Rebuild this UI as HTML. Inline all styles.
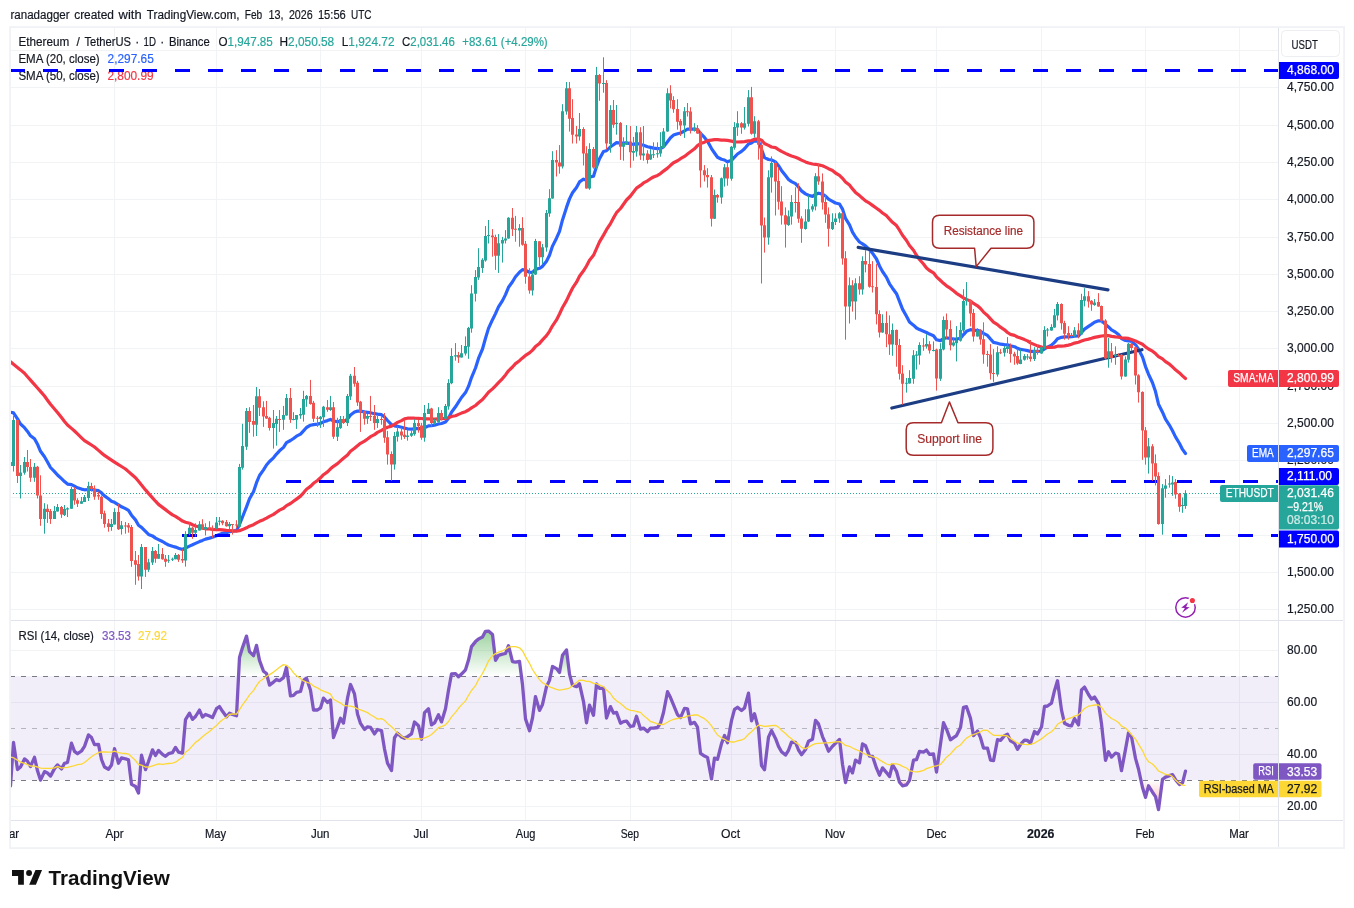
<!DOCTYPE html><html><head><meta charset="utf-8"><title>ETHUSDT</title><style>html,body{margin:0;padding:0;background:#fff}body{width:1354px;height:908px;overflow:hidden;font-family:"Liberation Sans",sans-serif}svg{display:block;will-change:transform}</style></head><body>
<svg width="1354" height="908" viewBox="0 0 1354 908" font-family="'Liberation Sans', sans-serif" font-size="12" fill="#131722">
<rect width="1354" height="908" fill="#fff"/>
<defs><clipPath id="cpMain"><rect x="10" y="28" width="1268" height="592.5"/></clipPath><clipPath id="cpRsi"><rect x="10" y="621" width="1268" height="199.5"/></clipPath><clipPath id="cpTime"><rect x="10" y="821" width="1268" height="27"/></clipPath><linearGradient id="gOB" x1="0" y1="0" x2="0" y2="1"><stop offset="0" stop-color="#4caf50" stop-opacity="0.55"/><stop offset="1" stop-color="#4caf50" stop-opacity="0"/></linearGradient><linearGradient id="gOS" x1="0" y1="0" x2="0" y2="1"><stop offset="0" stop-color="#ff5252" stop-opacity="0"/><stop offset="1" stop-color="#ff5252" stop-opacity="0.45"/></linearGradient></defs>
<path d="M114.5 28V820 M216.5 28V820 M320.5 28V820 M421.5 28V820 M525.5 28V820 M630.5 28V820 M731.5 28V820 M835.5 28V820 M936.5 28V820 M1041.5 28V820 M1145.5 28V820 M1239.5 28V820 M10 609.5H1278 M10 572.5H1278 M10 535.5H1278 M10 497.5H1278 M10 460.5H1278 M10 423.5H1278 M10 386.5H1278 M10 348.5H1278 M10 311.5H1278 M10 274.5H1278 M10 237.5H1278 M10 199.5H1278 M10 162.5H1278 M10 125.5H1278 M10 87.5H1278 M10 50.5H1278 M10 806.5H1278 M10 754.5H1278 M10 702.5H1278 M10 650.5H1278" stroke="#f2f3f5" stroke-width="1" fill="none" shape-rendering="crispEdges"/>
<text x="10.5" y="19.2" textLength="59.1" lengthAdjust="spacingAndGlyphs" stroke="#131722" stroke-width="0.18">ranadagger</text>
<text x="74.2" y="19.2" textLength="39.7" lengthAdjust="spacingAndGlyphs" stroke="#131722" stroke-width="0.18">created</text>
<text x="118.6" y="19.2" textLength="23.0" lengthAdjust="spacingAndGlyphs" stroke="#131722" stroke-width="0.18">with</text>
<text x="146.8" y="19.2" textLength="92.7" lengthAdjust="spacingAndGlyphs" stroke="#131722" stroke-width="0.18">TradingView.com,</text>
<text x="244.7" y="19.2" textLength="17.5" lengthAdjust="spacingAndGlyphs" stroke="#131722" stroke-width="0.18">Feb</text>
<text x="268.4" y="19.2" textLength="15.1" lengthAdjust="spacingAndGlyphs" stroke="#131722" stroke-width="0.18">13,</text>
<text x="288.9" y="19.2" textLength="23.8" lengthAdjust="spacingAndGlyphs" stroke="#131722" stroke-width="0.18">2026</text>
<text x="317.9" y="19.2" textLength="27.9" lengthAdjust="spacingAndGlyphs" stroke="#131722" stroke-width="0.18">15:56</text>
<text x="351" y="19.2" textLength="20.6" lengthAdjust="spacingAndGlyphs" stroke="#131722" stroke-width="0.18">UTC</text>
<text x="18.45" y="45.5" textLength="50.8" lengthAdjust="spacingAndGlyphs" stroke="#131722" stroke-width="0.18">Ethereum</text>
<text x="78.1" y="45.5" text-anchor="middle" stroke="#131722" stroke-width="0.18">/</text>
<text x="84.4" y="45.5" textLength="46.6" lengthAdjust="spacingAndGlyphs" stroke="#131722" stroke-width="0.18">TetherUS</text>
<text x="137.3" y="45.5" text-anchor="middle" stroke="#131722" stroke-width="0.18">·</text>
<text x="143.5" y="45.5" textLength="12.4" lengthAdjust="spacingAndGlyphs" stroke="#131722" stroke-width="0.18">1D</text>
<text x="162.3" y="45.5" text-anchor="middle" stroke="#131722" stroke-width="0.18">·</text>
<text x="168.9" y="45.5" textLength="40.9" lengthAdjust="spacingAndGlyphs" stroke="#131722" stroke-width="0.18">Binance</text>
<text x="218.5" y="45.5" textLength="54.3" lengthAdjust="spacingAndGlyphs" stroke="#131722" stroke-width="0.18">O<tspan fill="#26a69a" stroke="#26a69a" stroke-width="0.18">1,947.85</tspan></text>
<text x="279.5" y="45.5" textLength="54.7" lengthAdjust="spacingAndGlyphs" stroke="#131722" stroke-width="0.18">H<tspan fill="#26a69a" stroke="#26a69a" stroke-width="0.18">2,050.58</tspan></text>
<text x="341.7" y="45.5" textLength="52.8" lengthAdjust="spacingAndGlyphs" stroke="#131722" stroke-width="0.18">L<tspan fill="#26a69a" stroke="#26a69a" stroke-width="0.18">1,924.72</tspan></text>
<text x="402" y="45.5" textLength="52.8" lengthAdjust="spacingAndGlyphs" stroke="#131722" stroke-width="0.18">C<tspan fill="#26a69a" stroke="#26a69a" stroke-width="0.18">2,031.46</tspan></text>
<text x="462.3" y="45.5" fill="#26a69a" textLength="85.4" lengthAdjust="spacingAndGlyphs" stroke="#26a69a" stroke-width="0.18">+83.61 (+4.29%)</text>
<text x="18.4" y="62.5" textLength="81.3" lengthAdjust="spacingAndGlyphs" stroke="#131722" stroke-width="0.18">EMA (20, close)</text>
<text x="107.6" y="62.5" fill="#2962ff" textLength="46.2" lengthAdjust="spacingAndGlyphs" stroke="#2962ff" stroke-width="0.18">2,297.65</text>
<text x="18.4" y="79.5" textLength="81.3" lengthAdjust="spacingAndGlyphs" stroke="#131722" stroke-width="0.18">SMA (50, close)</text>
<text x="107.4" y="79.5" fill="#f23645" textLength="46.2" lengthAdjust="spacingAndGlyphs" stroke="#f23645" stroke-width="0.18">2,800.99</text>
<text x="18.4" y="640" textLength="75.5" lengthAdjust="spacingAndGlyphs" stroke="#131722" stroke-width="0.18">RSI (14, close)</text>
<text x="102" y="640" fill="#7e57c2" textLength="29" lengthAdjust="spacingAndGlyphs" stroke="#7e57c2" stroke-width="0.18">33.53</text>
<text x="138" y="640" fill="#fdd835" textLength="29" lengthAdjust="spacingAndGlyphs" stroke="#fdd835" stroke-width="0.18">27.92</text>
<g clip-path="url(#cpRsi)">
<rect x="10" y="676.2" width="1268" height="103.8" fill="#7e57c2" fill-opacity="0.1"/>
<path d="M10 676.5H1278" stroke="#787b86" stroke-opacity="1" stroke-width="1" stroke-dasharray="5 6" shape-rendering="crispEdges"/>
<path d="M10 728.5H1278" stroke="#787b86" stroke-opacity="0.5" stroke-width="1" stroke-dasharray="5 6" shape-rendering="crispEdges"/>
<path d="M10 780.5H1278" stroke="#787b86" stroke-opacity="1" stroke-width="1" stroke-dasharray="5 6" shape-rendering="crispEdges"/>
<path d="M238.5 676.2 L239.5 657.5 L242.5 647.6 L246.5 636.1 L249.5 651.7 L253.5 655.7 L256.5 645.4 L259.5 660.4 L263.5 671.2 L266.5 673.5 L267.2 676.2Z" fill="url(#gOB)"/>
<path d="M283.9 676.2 L286.5 667.2 L287.8 676.2Z" fill="url(#gOB)"/>
<path d="M451.1 676.2 L451.5 674.0 L455.5 673.7 L457.9 676.2Z" fill="url(#gOB)"/>
<path d="M459.1 676.2 L461.5 674.1 L465.5 669.8 L468.5 660.1 L471.5 646.6 L475.5 641.6 L478.5 638.9 L482.5 637.0 L485.5 631.3 L488.5 631.1 L492.5 634.4 L495.5 660.3 L498.5 655.3 L502.5 654.1 L505.5 653.5 L508.5 645.7 L512.5 661.7 L515.5 662.2 L519.5 661.5 L521.4 676.2Z" fill="url(#gOB)"/>
<path d="M550.4 676.2 L552.5 666.5 L556.5 668.6 L559.5 672.4 L562.5 655.3 L566.5 649.9 L569.5 674.1 L570.1 676.2Z" fill="url(#gOB)"/>
<path d="M10.5 780.0 L10.5 785.8 L10.9 780.0Z" fill="url(#gOS)"/>
<path d="M40.5 780.0 L40.5 780.1 L40.5 780.0Z" fill="url(#gOS)"/>
<path d="M131.0 780.0 L131.5 784.4 L135.5 786.5 L138.5 793.1 L139.5 780.0Z" fill="url(#gOS)"/>
<path d="M845.1 780.0 L845.5 782.5 L846.1 780.0Z" fill="url(#gOS)"/>
<path d="M898.9 780.0 L899.5 782.3 L902.5 785.8 L906.5 784.9 L909.5 780.4 L909.6 780.0Z" fill="url(#gOS)"/>
<path d="M1140.9 780.0 L1142.5 787.5 L1145.5 797.3 L1148.5 785.8 L1152.5 792.2 L1155.5 796.6 L1158.5 809.6 L1162.4 780.0Z" fill="url(#gOS)"/>
<path d="M1175.7 780.0 L1179.5 784.5 L1182.5 782.8 L1183.2 780.0Z" fill="url(#gOS)"/>
<path d="M10.5 785.8 L13.5 742.5 L17.5 769.6 L20.5 767.0 L24.5 758.9 L27.5 761.3 L30.5 766.5 L34.5 757.3 L37.5 770.8 L40.5 780.1 L44.5 771.6 L47.5 773.0 L50.5 776.1 L54.5 768.6 L57.5 764.9 L61.5 768.9 L64.5 763.3 L67.5 762.5 L71.5 743.2 L74.5 751.4 L77.5 753.7 L81.5 751.0 L84.5 746.4 L88.5 734.9 L91.5 737.6 L94.5 744.6 L98.5 744.4 L101.5 759.5 L104.5 767.0 L108.5 769.3 L111.5 765.0 L114.5 748.7 L118.5 763.2 L121.5 757.9 L125.5 758.8 L128.5 759.9 L131.5 784.4 L135.5 786.5 L138.5 793.1 L141.5 755.2 L145.5 769.6 L148.5 761.5 L152.5 749.9 L155.5 755.5 L158.5 750.4 L162.5 754.4 L165.5 756.3 L168.5 753.7 L172.5 752.6 L175.5 747.4 L178.5 752.1 L182.5 753.1 L185.5 719.6 L189.5 713.2 L192.5 719.4 L195.5 716.5 L199.5 710.1 L202.5 717.1 L205.5 714.5 L209.5 716.0 L212.5 717.6 L216.5 708.7 L219.5 706.6 L222.5 711.3 L226.5 716.8 L229.5 713.2 L232.5 714.5 L236.5 715.8 L239.5 657.5 L242.5 647.6 L246.5 636.1 L249.5 651.7 L253.5 655.7 L256.5 645.4 L259.5 660.4 L263.5 671.2 L266.5 673.5 L269.5 685.1 L273.5 682.1 L276.5 679.5 L279.5 680.7 L283.5 677.6 L286.5 667.2 L290.5 695.9 L293.5 695.3 L296.5 692.3 L300.5 691.5 L303.5 680.3 L306.5 678.2 L310.5 690.3 L313.5 710.0 L317.5 710.0 L320.5 707.9 L323.5 698.1 L327.5 702.5 L330.5 699.9 L333.5 737.5 L337.5 727.0 L340.5 718.3 L343.5 723.1 L347.5 698.2 L350.5 684.5 L354.5 693.9 L357.5 714.1 L360.5 723.4 L364.5 729.4 L367.5 726.8 L370.5 727.4 L374.5 733.9 L377.5 729.5 L381.5 730.6 L384.5 749.0 L387.5 763.1 L391.5 770.5 L394.5 737.7 L397.5 733.3 L401.5 736.9 L404.5 738.3 L407.5 736.6 L411.5 733.9 L414.5 722.0 L418.5 725.7 L421.5 739.2 L424.5 712.6 L428.5 708.8 L431.5 724.9 L434.5 722.9 L438.5 714.8 L441.5 721.9 L445.5 708.8 L448.5 690.2 L451.5 674.0 L455.5 673.7 L458.5 676.8 L461.5 674.1 L465.5 669.8 L468.5 660.1 L471.5 646.6 L475.5 641.6 L478.5 638.9 L482.5 637.0 L485.5 631.3 L488.5 631.1 L492.5 634.4 L495.5 660.3 L498.5 655.3 L502.5 654.1 L505.5 653.5 L508.5 645.7 L512.5 661.7 L515.5 662.2 L519.5 661.5 L522.5 684.8 L525.5 718.9 L529.5 730.7 L532.5 718.0 L535.5 696.6 L539.5 710.4 L542.5 704.4 L546.5 686.7 L549.5 680.4 L552.5 666.5 L556.5 668.6 L559.5 672.4 L562.5 655.3 L566.5 649.9 L569.5 674.1 L572.5 685.3 L576.5 686.7 L579.5 683.8 L583.5 701.6 L586.5 722.8 L589.5 705.1 L593.5 715.3 L596.5 683.9 L599.5 688.4 L603.5 688.2 L606.5 718.0 L610.5 706.6 L613.5 713.1 L616.5 712.4 L620.5 723.2 L623.5 721.6 L626.5 721.1 L630.5 726.5 L633.5 725.9 L636.5 716.3 L640.5 729.1 L643.5 728.1 L647.5 731.6 L650.5 728.2 L653.5 728.2 L657.5 727.5 L660.5 723.3 L663.5 712.5 L667.5 691.7 L670.5 697.6 L673.5 704.8 L677.5 714.6 L680.5 717.6 L684.5 708.3 L687.5 708.9 L690.5 723.9 L694.5 722.4 L697.5 727.1 L700.5 753.3 L704.5 756.1 L707.5 757.4 L711.5 778.9 L714.5 758.1 L717.5 759.3 L721.5 743.6 L724.5 735.5 L727.5 742.7 L731.5 720.7 L734.5 709.4 L737.5 707.3 L741.5 710.6 L744.5 708.0 L748.5 693.2 L751.5 720.9 L754.5 713.7 L758.5 729.0 L761.5 765.6 L764.5 769.7 L768.5 737.1 L771.5 730.6 L775.5 738.4 L778.5 746.4 L781.5 751.7 L785.5 755.1 L788.5 750.3 L791.5 742.1 L795.5 742.5 L798.5 750.0 L801.5 754.7 L805.5 749.6 L808.5 741.3 L812.5 739.3 L815.5 720.4 L818.5 723.9 L822.5 736.6 L825.5 743.5 L828.5 751.2 L832.5 746.2 L835.5 743.4 L839.5 739.4 L842.5 764.2 L845.5 782.5 L849.5 766.9 L852.5 772.9 L855.5 760.2 L859.5 762.8 L862.5 744.0 L865.5 745.7 L869.5 756.1 L872.5 756.3 L876.5 768.2 L879.5 775.2 L882.5 767.9 L886.5 772.6 L889.5 776.6 L892.5 764.7 L896.5 771.3 L899.5 782.3 L902.5 785.8 L906.5 784.9 L909.5 780.4 L913.5 760.2 L916.5 759.6 L919.5 751.4 L923.5 752.2 L926.5 750.1 L929.5 754.4 L933.5 754.0 L936.5 772.0 L940.5 744.1 L943.5 722.7 L946.5 729.2 L950.5 739.8 L953.5 737.7 L956.5 735.6 L960.5 727.6 L963.5 707.3 L966.5 706.7 L970.5 718.4 L973.5 735.7 L977.5 731.0 L980.5 737.7 L983.5 748.0 L987.5 748.2 L990.5 760.1 L993.5 760.6 L997.5 739.7 L1000.5 740.3 L1004.5 735.7 L1007.5 734.2 L1010.5 740.9 L1014.5 743.1 L1017.5 749.3 L1020.5 744.3 L1024.5 740.1 L1027.5 740.5 L1030.5 743.3 L1034.5 731.5 L1037.5 734.0 L1041.5 727.0 L1044.5 706.5 L1047.5 706.0 L1051.5 703.2 L1054.5 690.7 L1057.5 680.8 L1061.5 710.1 L1064.5 723.2 L1068.5 725.3 L1071.5 725.8 L1074.5 718.6 L1078.5 724.9 L1081.5 690.0 L1084.5 687.1 L1088.5 694.5 L1091.5 699.1 L1094.5 697.0 L1098.5 703.3 L1101.5 723.8 L1105.5 760.4 L1108.5 751.8 L1111.5 757.1 L1115.5 753.1 L1118.5 754.0 L1121.5 770.7 L1125.5 749.4 L1128.5 732.9 L1131.5 736.8 L1135.5 758.4 L1138.5 769.0 L1142.5 787.5 L1145.5 797.3 L1148.5 785.8 L1152.5 792.2 L1155.5 796.6 L1158.5 809.6 L1162.5 779.3 L1165.5 777.1 L1169.5 775.6 L1172.5 774.6 L1175.5 779.7 L1179.5 784.5 L1182.5 782.8 L1185.5 771.2" stroke="#7e57c2" stroke-width="3.3" fill="none" stroke-linejoin="round" stroke-linecap="round"/>
<path d="M10.5 757.1 L13.5 757.7 L17.5 760.1 L20.5 762.2 L24.5 763.4 L27.5 764.7 L30.5 766.0 L34.5 766.2 L37.5 767.0 L40.5 768.1 L44.5 768.3 L47.5 768.3 L50.5 768.4 L54.5 767.8 L57.5 766.3 L61.5 768.2 L64.5 767.7 L67.5 767.4 L71.5 766.3 L74.5 765.6 L77.5 764.7 L81.5 764.2 L84.5 762.5 L88.5 759.2 L91.5 756.8 L94.5 754.8 L98.5 752.5 L101.5 751.9 L104.5 752.0 L108.5 752.1 L111.5 752.2 L114.5 751.2 L118.5 752.6 L121.5 753.1 L125.5 753.5 L128.5 754.1 L131.5 756.8 L135.5 760.5 L138.5 764.5 L141.5 765.2 L145.5 767.0 L148.5 767.2 L152.5 765.9 L155.5 764.9 L158.5 763.9 L162.5 764.3 L165.5 763.8 L168.5 763.5 L172.5 763.1 L175.5 762.2 L178.5 759.9 L182.5 757.5 L185.5 752.2 L189.5 749.2 L192.5 745.7 L195.5 742.4 L199.5 739.6 L202.5 736.8 L205.5 734.3 L209.5 731.5 L212.5 728.8 L216.5 725.6 L219.5 722.3 L222.5 719.7 L226.5 717.2 L229.5 714.3 L232.5 714.0 L236.5 714.1 L239.5 709.7 L242.5 704.8 L246.5 699.5 L249.5 694.9 L253.5 690.6 L256.5 685.6 L259.5 681.5 L263.5 678.8 L266.5 676.5 L269.5 674.6 L273.5 672.1 L276.5 669.7 L279.5 667.3 L283.5 664.6 L286.5 665.3 L290.5 668.7 L293.5 672.9 L296.5 675.8 L300.5 678.4 L303.5 680.9 L306.5 682.2 L310.5 683.5 L313.5 686.1 L317.5 687.9 L320.5 689.8 L323.5 691.1 L327.5 692.7 L330.5 694.2 L333.5 699.3 L337.5 701.5 L340.5 703.1 L343.5 705.3 L347.5 705.8 L350.5 706.1 L354.5 707.2 L357.5 708.9 L360.5 709.9 L364.5 711.3 L367.5 712.6 L370.5 714.7 L374.5 717.0 L377.5 719.1 L381.5 718.6 L384.5 720.2 L387.5 723.4 L391.5 726.7 L394.5 729.6 L397.5 733.1 L401.5 736.1 L404.5 737.8 L407.5 738.8 L411.5 739.1 L414.5 738.8 L418.5 738.7 L421.5 739.0 L424.5 737.8 L428.5 736.3 L431.5 734.5 L434.5 731.7 L438.5 727.7 L441.5 726.6 L445.5 724.8 L448.5 721.5 L451.5 716.9 L455.5 712.4 L458.5 708.3 L461.5 704.9 L465.5 700.9 L468.5 695.3 L471.5 690.5 L475.5 685.7 L478.5 679.6 L482.5 673.5 L485.5 667.5 L488.5 661.0 L492.5 655.7 L495.5 653.6 L498.5 652.2 L502.5 650.8 L505.5 649.2 L508.5 647.1 L512.5 646.6 L515.5 646.7 L519.5 647.8 L522.5 650.8 L525.5 656.6 L529.5 663.3 L532.5 669.5 L535.5 674.1 L539.5 679.6 L542.5 682.7 L546.5 684.9 L549.5 686.8 L552.5 687.8 L556.5 689.4 L559.5 690.1 L562.5 689.7 L566.5 688.8 L569.5 688.1 L572.5 685.7 L576.5 682.5 L579.5 680.1 L583.5 680.4 L586.5 681.3 L589.5 681.4 L593.5 683.4 L596.5 683.7 L599.5 685.2 L603.5 686.6 L606.5 689.9 L610.5 693.5 L613.5 698.1 L616.5 700.8 L620.5 703.5 L623.5 706.0 L626.5 708.7 L630.5 710.4 L633.5 710.6 L636.5 711.5 L640.5 712.4 L643.5 715.6 L647.5 718.7 L650.5 721.5 L653.5 722.3 L657.5 723.8 L660.5 724.5 L663.5 724.5 L667.5 722.3 L670.5 720.5 L673.5 719.4 L677.5 718.5 L680.5 717.9 L684.5 717.4 L687.5 715.9 L690.5 715.6 L694.5 715.0 L697.5 714.9 L700.5 716.7 L704.5 718.7 L707.5 721.2 L711.5 725.9 L714.5 730.6 L717.5 735.0 L721.5 737.8 L724.5 739.3 L727.5 741.1 L731.5 742.0 L734.5 742.0 L737.5 740.8 L741.5 740.0 L744.5 738.6 L748.5 734.3 L751.5 731.8 L754.5 728.7 L758.5 725.1 L761.5 725.7 L764.5 726.4 L768.5 726.0 L771.5 725.6 L775.5 725.3 L778.5 727.1 L781.5 730.2 L785.5 733.6 L788.5 736.4 L791.5 738.8 L795.5 742.4 L798.5 744.4 L801.5 747.4 L805.5 748.8 L808.5 747.1 L812.5 744.9 L815.5 743.7 L818.5 743.3 L822.5 743.1 L825.5 742.9 L828.5 742.9 L832.5 742.3 L835.5 741.8 L839.5 741.6 L842.5 743.1 L845.5 745.4 L849.5 746.3 L852.5 748.0 L855.5 749.3 L859.5 751.0 L862.5 752.7 L865.5 754.3 L869.5 755.6 L872.5 756.6 L876.5 757.8 L879.5 759.9 L882.5 761.6 L886.5 764.0 L889.5 764.9 L892.5 763.6 L896.5 763.9 L899.5 764.6 L902.5 766.4 L906.5 768.0 L909.5 770.6 L913.5 771.6 L916.5 771.9 L919.5 771.5 L923.5 770.4 L926.5 768.6 L929.5 767.6 L933.5 766.3 L936.5 765.9 L940.5 764.5 L943.5 761.0 L946.5 757.2 L950.5 753.9 L953.5 750.5 L956.5 747.3 L960.5 745.0 L963.5 741.3 L966.5 738.1 L970.5 735.7 L973.5 734.7 L977.5 733.0 L980.5 731.8 L983.5 730.1 L987.5 730.4 L990.5 733.1 L993.5 735.3 L997.5 735.3 L1000.5 735.5 L1004.5 735.5 L1007.5 736.0 L1010.5 738.4 L1014.5 741.0 L1017.5 743.2 L1020.5 743.8 L1024.5 744.4 L1027.5 744.6 L1030.5 744.3 L1034.5 743.1 L1037.5 741.3 L1041.5 738.9 L1044.5 736.5 L1047.5 734.0 L1051.5 731.7 L1054.5 728.6 L1057.5 724.3 L1061.5 721.9 L1064.5 720.1 L1068.5 718.7 L1071.5 717.7 L1074.5 716.1 L1078.5 714.8 L1081.5 711.9 L1084.5 708.5 L1088.5 706.2 L1091.5 705.7 L1094.5 705.0 L1098.5 705.0 L1101.5 707.4 L1105.5 713.1 L1108.5 716.1 L1111.5 718.5 L1115.5 720.5 L1118.5 722.5 L1121.5 726.2 L1125.5 728.0 L1128.5 731.0 L1131.5 734.6 L1135.5 739.1 L1138.5 744.1 L1142.5 750.6 L1145.5 757.3 L1148.5 761.7 L1152.5 764.0 L1155.5 767.2 L1158.5 771.0 L1162.5 772.8 L1165.5 774.5 L1169.5 774.8 L1172.5 776.6 L1175.5 780.0 L1179.5 783.4 L1182.5 785.1 L1185.5 785.3" stroke="#fdd835" stroke-width="1.3" fill="none" stroke-linejoin="round"/>
</g>
<g clip-path="url(#cpMain)">
<path d="M10 493.5H1278" stroke="#26a69a" stroke-width="1" stroke-dasharray="1 2" shape-rendering="crispEdges"/>
<path d="M10.5 412.2 L13.5 412.9 L17.5 418.9 L20.5 424.0 L24.5 427.7 L27.5 431.4 L30.5 435.8 L34.5 438.8 L37.5 444.2 L40.5 451.3 L44.5 456.8 L47.5 462.0 L50.5 467.5 L54.5 471.6 L57.5 475.0 L61.5 478.7 L64.5 481.6 L67.5 484.1 L71.5 484.6 L74.5 486.1 L77.5 487.8 L81.5 489.1 L84.5 489.8 L88.5 489.5 L91.5 489.4 L94.5 490.1 L98.5 490.7 L101.5 492.9 L104.5 495.9 L108.5 498.8 L111.5 501.2 L114.5 502.3 L118.5 504.8 L121.5 506.8 L125.5 508.6 L128.5 510.4 L131.5 515.2 L135.5 519.9 L138.5 525.3 L141.5 527.4 L145.5 531.4 L148.5 534.4 L152.5 535.9 L155.5 538.1 L158.5 539.6 L162.5 541.5 L165.5 543.4 L168.5 545.0 L172.5 546.3 L175.5 547.1 L178.5 548.3 L182.5 549.5 L185.5 548.0 L189.5 546.1 L192.5 544.8 L195.5 543.4 L199.5 541.6 L202.5 540.4 L205.5 539.1 L209.5 538.1 L212.5 537.2 L216.5 535.8 L219.5 534.4 L222.5 533.3 L226.5 532.6 L229.5 531.8 L232.5 531.1 L236.5 530.6 L239.5 524.5 L242.5 517.0 L246.5 506.9 L249.5 498.8 L253.5 491.8 L256.5 482.7 L259.5 475.5 L263.5 469.9 L266.5 465.0 L269.5 461.5 L273.5 457.8 L276.5 454.1 L279.5 450.8 L283.5 447.4 L286.5 442.7 L290.5 440.5 L293.5 438.5 L296.5 436.2 L300.5 434.1 L303.5 430.8 L306.5 427.5 L310.5 425.2 L313.5 424.6 L317.5 424.1 L320.5 423.4 L323.5 421.8 L327.5 420.6 L330.5 419.4 L333.5 421.0 L337.5 421.6 L340.5 421.4 L343.5 421.5 L347.5 419.1 L350.5 415.0 L354.5 412.0 L357.5 411.1 L360.5 411.2 L364.5 411.9 L367.5 412.3 L370.5 412.7 L374.5 413.7 L377.5 414.2 L381.5 414.7 L384.5 416.9 L387.5 420.5 L391.5 424.7 L394.5 425.8 L397.5 426.3 L401.5 427.2 L404.5 428.1 L407.5 428.8 L411.5 429.2 L414.5 428.6 L418.5 428.4 L421.5 429.3 L424.5 427.7 L428.5 425.9 L431.5 425.6 L434.5 425.2 L438.5 424.0 L441.5 423.5 L445.5 421.9 L448.5 418.2 L451.5 412.2 L455.5 406.8 L458.5 402.1 L461.5 397.5 L465.5 392.6 L468.5 386.4 L471.5 377.6 L475.5 368.0 L478.5 358.4 L482.5 349.0 L485.5 338.2 L488.5 328.4 L492.5 319.7 L495.5 313.6 L498.5 306.9 L502.5 300.6 L505.5 294.6 L508.5 287.3 L512.5 281.8 L515.5 276.8 L519.5 272.2 L522.5 269.6 L525.5 270.3 L529.5 272.2 L532.5 272.4 L535.5 269.4 L539.5 268.3 L542.5 266.3 L546.5 261.2 L549.5 255.2 L552.5 246.1 L556.5 238.2 L559.5 231.3 L562.5 219.9 L566.5 207.4 L569.5 198.9 L572.5 192.8 L576.5 187.5 L579.5 181.9 L583.5 179.2 L586.5 180.1 L589.5 177.1 L593.5 176.2 L596.5 166.6 L599.5 158.7 L603.5 151.5 L606.5 150.7 L610.5 146.8 L613.5 144.7 L616.5 142.6 L620.5 143.0 L623.5 143.0 L626.5 142.9 L630.5 143.8 L633.5 144.5 L636.5 143.3 L640.5 144.5 L643.5 145.3 L647.5 146.7 L650.5 147.4 L653.5 148.1 L657.5 148.6 L660.5 148.5 L663.5 146.8 L667.5 141.7 L670.5 137.8 L673.5 135.1 L677.5 133.8 L680.5 133.0 L684.5 131.0 L687.5 129.2 L690.5 129.2 L694.5 129.1 L697.5 129.5 L700.5 133.4 L704.5 137.4 L707.5 141.2 L711.5 148.6 L714.5 153.0 L717.5 157.2 L721.5 159.2 L724.5 160.0 L727.5 161.8 L731.5 160.3 L734.5 157.2 L737.5 154.0 L741.5 151.4 L744.5 148.8 L748.5 143.9 L751.5 142.9 L754.5 140.8 L758.5 141.2 L761.5 149.2 L764.5 157.6 L768.5 159.5 L771.5 159.8 L775.5 161.9 L778.5 165.7 L781.5 170.4 L785.5 175.6 L788.5 179.5 L791.5 181.6 L795.5 183.6 L798.5 187.0 L801.5 190.9 L805.5 193.9 L808.5 195.3 L812.5 196.4 L815.5 194.4 L818.5 193.2 L822.5 194.1 L825.5 196.0 L828.5 199.2 L832.5 201.3 L835.5 203.0 L839.5 204.0 L842.5 209.1 L845.5 218.4 L849.5 224.8 L852.5 232.1 L855.5 237.0 L859.5 242.0 L862.5 243.8 L865.5 245.8 L869.5 249.7 L872.5 253.2 L876.5 259.0 L879.5 266.0 L882.5 271.5 L886.5 277.4 L889.5 283.8 L892.5 288.2 L896.5 293.7 L899.5 301.3 L902.5 309.1 L906.5 316.2 L909.5 322.0 L913.5 325.2 L916.5 328.0 L919.5 329.6 L923.5 331.2 L926.5 332.4 L929.5 334.1 L933.5 335.7 L936.5 339.7 L940.5 340.6 L943.5 338.7 L946.5 337.8 L950.5 338.5 L953.5 338.9 L956.5 339.0 L960.5 338.2 L963.5 334.6 L966.5 331.3 L970.5 329.6 L973.5 330.3 L977.5 330.3 L980.5 331.2 L983.5 333.4 L987.5 335.4 L990.5 339.0 L993.5 342.4 L997.5 343.3 L1000.5 344.2 L1004.5 344.6 L1007.5 344.8 L1010.5 345.7 L1014.5 346.7 L1017.5 348.3 L1020.5 349.4 L1024.5 350.0 L1027.5 350.6 L1030.5 351.4 L1034.5 351.3 L1037.5 351.4 L1041.5 351.0 L1044.5 349.0 L1047.5 347.1 L1051.5 345.2 L1054.5 342.4 L1057.5 338.7 L1061.5 337.3 L1064.5 336.9 L1068.5 336.8 L1071.5 336.7 L1074.5 336.1 L1078.5 335.9 L1081.5 332.5 L1084.5 329.1 L1088.5 326.4 L1091.5 324.4 L1094.5 322.3 L1098.5 320.8 L1101.5 320.8 L1105.5 324.4 L1108.5 326.9 L1111.5 329.9 L1115.5 332.2 L1118.5 334.5 L1121.5 338.5 L1125.5 340.5 L1128.5 340.8 L1131.5 341.5 L1135.5 344.7 L1138.5 349.2 L1142.5 357.0 L1145.5 366.6 L1148.5 374.2 L1152.5 382.7 L1155.5 391.6 L1158.5 404.2 L1162.5 412.2 L1165.5 419.2 L1169.5 425.3 L1172.5 430.8 L1175.5 436.9 L1179.5 443.5 L1182.5 449.4 L1185.5 453.5" stroke="#2962ff" stroke-width="3.2" fill="none" stroke-linejoin="round" stroke-linecap="round"/>
<path d="M10.5 361.8 L13.5 364.2 L17.5 367.5 L20.5 369.9 L24.5 373.3 L27.5 376.7 L30.5 380.1 L34.5 384.6 L37.5 388.0 L40.5 391.4 L44.5 396.0 L47.5 400.2 L50.5 404.3 L54.5 409.0 L57.5 412.5 L61.5 417.6 L64.5 421.5 L67.5 425.0 L71.5 428.4 L74.5 431.0 L77.5 433.9 L81.5 437.8 L84.5 440.6 L88.5 443.1 L91.5 445.0 L94.5 447.0 L98.5 450.4 L101.5 452.9 L104.5 455.4 L108.5 458.1 L111.5 460.1 L114.5 462.1 L118.5 464.7 L121.5 466.5 L125.5 469.0 L128.5 471.6 L131.5 474.2 L135.5 477.7 L138.5 481.3 L141.5 485.0 L145.5 489.9 L148.5 493.4 L152.5 497.8 L155.5 501.2 L158.5 504.4 L162.5 507.4 L165.5 509.6 L168.5 511.9 L172.5 514.9 L175.5 516.4 L178.5 518.3 L182.5 521.1 L185.5 522.2 L189.5 523.3 L192.5 524.8 L195.5 526.0 L199.5 527.0 L202.5 528.2 L205.5 528.8 L209.5 529.0 L212.5 529.4 L216.5 529.6 L219.5 529.7 L222.5 529.9 L226.5 530.3 L229.5 530.5 L232.5 530.8 L236.5 531.1 L239.5 530.7 L242.5 529.6 L246.5 527.8 L249.5 526.2 L253.5 524.7 L256.5 522.9 L259.5 521.3 L263.5 519.7 L266.5 518.1 L269.5 516.4 L273.5 514.4 L276.5 512.2 L279.5 510.1 L283.5 508.2 L286.5 505.6 L290.5 503.5 L293.5 501.3 L296.5 499.1 L300.5 496.1 L303.5 492.8 L306.5 489.2 L310.5 486.4 L313.5 483.3 L317.5 480.5 L320.5 477.8 L323.5 474.7 L327.5 471.9 L330.5 468.8 L333.5 466.3 L337.5 463.7 L340.5 460.9 L343.5 458.2 L347.5 455.0 L350.5 451.3 L354.5 448.3 L357.5 445.8 L360.5 443.3 L364.5 441.1 L367.5 439.0 L370.5 436.7 L374.5 434.6 L377.5 432.4 L381.5 430.3 L384.5 428.6 L387.5 427.2 L391.5 426.1 L394.5 424.3 L397.5 422.4 L401.5 420.6 L404.5 418.9 L407.5 418.2 L411.5 418.0 L414.5 418.2 L418.5 418.3 L421.5 418.5 L424.5 418.9 L428.5 418.9 L431.5 419.0 L434.5 419.1 L438.5 418.8 L441.5 418.7 L445.5 418.4 L448.5 417.7 L451.5 416.5 L455.5 415.7 L458.5 414.4 L461.5 413.1 L465.5 411.7 L468.5 410.0 L471.5 407.9 L475.5 405.5 L478.5 402.8 L482.5 399.6 L485.5 395.9 L488.5 392.3 L492.5 388.9 L495.5 385.8 L498.5 382.6 L502.5 378.6 L505.5 374.9 L508.5 370.8 L512.5 367.0 L515.5 363.6 L519.5 360.7 L522.5 357.9 L525.5 355.4 L529.5 352.9 L532.5 350.1 L535.5 346.6 L539.5 343.4 L542.5 339.9 L546.5 335.7 L549.5 331.3 L552.5 325.8 L556.5 319.9 L559.5 314.0 L562.5 307.5 L566.5 300.6 L569.5 294.3 L572.5 288.2 L576.5 282.2 L579.5 276.2 L583.5 270.8 L586.5 266.0 L589.5 260.3 L593.5 255.3 L596.5 248.7 L599.5 241.9 L603.5 235.1 L606.5 229.7 L610.5 223.6 L613.5 217.9 L616.5 212.7 L620.5 208.5 L623.5 204.3 L626.5 200.0 L630.5 196.0 L633.5 192.1 L636.5 188.1 L640.5 185.4 L643.5 182.9 L647.5 180.8 L650.5 178.7 L653.5 177.0 L657.5 175.4 L660.5 173.6 L663.5 171.1 L667.5 168.1 L670.5 165.3 L673.5 162.7 L677.5 160.8 L680.5 158.7 L684.5 156.4 L687.5 154.0 L690.5 151.8 L694.5 148.8 L697.5 145.6 L700.5 143.6 L704.5 142.2 L707.5 140.6 L711.5 140.1 L714.5 139.7 L717.5 139.7 L721.5 140.1 L724.5 140.2 L727.5 140.4 L731.5 141.1 L734.5 141.9 L737.5 142.0 L741.5 141.8 L744.5 141.6 L748.5 140.9 L751.5 140.5 L754.5 139.2 L758.5 139.1 L761.5 140.2 L764.5 143.5 L768.5 145.4 L771.5 147.0 L775.5 147.7 L778.5 149.6 L781.5 151.4 L785.5 153.4 L788.5 154.8 L791.5 156.0 L795.5 157.2 L798.5 158.5 L801.5 160.1 L805.5 161.9 L808.5 163.0 L812.5 164.0 L815.5 164.3 L818.5 164.9 L822.5 165.8 L825.5 167.1 L828.5 168.7 L832.5 170.5 L835.5 173.0 L839.5 175.3 L842.5 178.3 L845.5 182.0 L849.5 185.1 L852.5 188.9 L855.5 192.4 L859.5 195.6 L862.5 198.2 L865.5 200.9 L869.5 203.2 L872.5 205.4 L876.5 208.2 L879.5 210.4 L882.5 213.0 L886.5 215.7 L889.5 219.1 L892.5 222.3 L896.5 225.6 L899.5 230.2 L902.5 235.3 L906.5 240.5 L909.5 245.5 L913.5 250.2 L916.5 255.3 L919.5 259.5 L923.5 264.0 L926.5 268.0 L929.5 270.5 L933.5 272.8 L936.5 276.8 L940.5 280.5 L943.5 283.3 L946.5 285.8 L950.5 288.4 L953.5 290.8 L956.5 293.3 L960.5 295.8 L963.5 297.8 L966.5 299.4 L970.5 301.1 L973.5 303.4 L977.5 305.8 L980.5 308.5 L983.5 312.1 L987.5 315.5 L990.5 318.9 L993.5 322.1 L997.5 324.6 L1000.5 327.2 L1004.5 329.8 L1007.5 332.5 L1010.5 334.4 L1014.5 335.4 L1017.5 337.0 L1020.5 338.1 L1024.5 339.6 L1027.5 340.9 L1030.5 342.9 L1034.5 344.6 L1037.5 345.9 L1041.5 347.1 L1044.5 347.4 L1047.5 347.4 L1051.5 347.4 L1054.5 347.1 L1057.5 346.2 L1061.5 346.1 L1064.5 345.9 L1068.5 345.1 L1071.5 344.2 L1074.5 343.1 L1078.5 342.2 L1081.5 341.1 L1084.5 340.0 L1088.5 339.1 L1091.5 338.3 L1094.5 337.4 L1098.5 336.6 L1101.5 336.0 L1105.5 335.6 L1108.5 335.6 L1111.5 336.4 L1115.5 336.9 L1118.5 337.1 L1121.5 337.8 L1125.5 338.1 L1128.5 338.4 L1131.5 339.4 L1135.5 340.9 L1138.5 342.4 L1142.5 344.3 L1145.5 346.9 L1148.5 349.0 L1152.5 351.2 L1155.5 353.6 L1158.5 356.6 L1162.5 358.9 L1165.5 361.6 L1169.5 364.2 L1172.5 366.9 L1175.5 369.8 L1179.5 372.9 L1182.5 375.9 L1185.5 378.5" stroke="#f23645" stroke-width="3.2" fill="none" stroke-linejoin="round" stroke-linecap="round"/>
<path d="M10 70.5H25 M43 70.5H58 M76 70.5H91 M109 70.5H124 M142 70.5H157 M175 70.5H190 M208 70.5H223 M241 70.5H256 M274 70.5H289 M307 70.5H322 M340 70.5H355 M373 70.5H388 M406 70.5H421 M439 70.5H454 M472 70.5H487 M505 70.5H520 M538 70.5H553 M571 70.5H586 M604 70.5H619 M637 70.5H652 M670 70.5H685 M703 70.5H718 M736 70.5H751 M769 70.5H784 M802 70.5H817 M835 70.5H850 M868 70.5H883 M901 70.5H916 M934 70.5H949 M967 70.5H982 M1000 70.5H1015 M1033 70.5H1048 M1066 70.5H1081 M1099 70.5H1114 M1132 70.5H1147 M1165 70.5H1180 M1198 70.5H1213 M1231 70.5H1246 M1264 70.5H1278 M286 481.5H301 M319 481.5H334 M352 481.5H367 M385 481.5H400 M418 481.5H433 M451 481.5H466 M484 481.5H499 M517 481.5H532 M550 481.5H565 M583 481.5H598 M616 481.5H631 M649 481.5H664 M682 481.5H697 M715 481.5H730 M748 481.5H763 M781 481.5H796 M814 481.5H829 M847 481.5H862 M880 481.5H895 M913 481.5H928 M946 481.5H961 M979 481.5H994 M1012 481.5H1027 M1045 481.5H1060 M1078 481.5H1093 M1111 481.5H1126 M1144 481.5H1159 M1177 481.5H1192 M1210 481.5H1225 M1243 481.5H1258 M1276 481.5H1278 M182 535.5H197 M215 535.5H230 M248 535.5H263 M281 535.5H296 M314 535.5H329 M347 535.5H362 M380 535.5H395 M413 535.5H428 M446 535.5H461 M479 535.5H494 M512 535.5H527 M545 535.5H560 M578 535.5H593 M611 535.5H626 M644 535.5H659 M677 535.5H692 M710 535.5H725 M743 535.5H758 M776 535.5H791 M809 535.5H824 M842 535.5H857 M875 535.5H890 M908 535.5H923 M941 535.5H956 M974 535.5H989 M1007 535.5H1022 M1040 535.5H1055 M1073 535.5H1088 M1106 535.5H1121 M1139 535.5H1154 M1172 535.5H1187 M1205 535.5H1220 M1238 535.5H1253 M1271 535.5H1278" stroke="#0000ff" stroke-width="3" fill="none" shape-rendering="crispEdges"/>
<path d="M858.2 247.3L1108 289.8M891.8 408L1141.9 349.7" stroke="#1c3d83" stroke-width="3.2" stroke-linecap="round" fill="none"/>
<path d="M939.5 215.2H1026.9Q1033.9 215.2 1033.9 222.2V241.3Q1033.9 248.3 1026.9 248.3H991L976.2 266.6L974.6 248.3H939.5Q932.5 248.3 932.5 241.3V222.2Q932.5 215.2 939.5 215.2Z" fill="#fff" fill-opacity="0.75" stroke="#a52a2a" stroke-width="1.5" stroke-linejoin="round"/>
<text x="983.4" y="235" text-anchor="middle" fill="#a52a2a" textLength="79.4" lengthAdjust="spacingAndGlyphs" stroke="#a52a2a" stroke-width="0.18">Resistance line</text>
<path d="M913.2 422.7H941.4L949.4 401.9L958 422.7H985.9Q992.9 422.7 992.9 429.7V448.3Q992.9 455.3 985.9 455.3H913.2Q906.2 455.3 906.2 448.3V429.7Q906.2 422.7 913.2 422.7Z" fill="#fff" fill-opacity="0.75" stroke="#a52a2a" stroke-width="1.5" stroke-linejoin="round"/>
<text x="949.6" y="442.8" text-anchor="middle" fill="#a52a2a" textLength="64.7" lengthAdjust="spacingAndGlyphs" stroke="#a52a2a" stroke-width="0.18">Support line</text>
<path d="M13.5 416.0V471.5 M20.5 465.0V498.5 M24.5 457.0V474.7 M34.5 463.0V481.8 M44.5 503.2V533.7 M54.5 506.0V518.9 M57.5 504.0V511.6 M64.5 505.0V516.0 M67.5 507.3V517.0 M71.5 486.9V508.8 M81.5 497.0V503.8 M84.5 495.0V502.0 M88.5 481.8V501.0 M111.5 519.0V530.8 M114.5 508.2V524.5 M121.5 521.0V534.6 M141.5 544.0V589.0 M148.5 558.8V571.9 M152.5 547.0V565.0 M158.5 544.0V558.8 M168.5 555.0V562.8 M172.5 557.6V561.0 M175.5 553.0V559.3 M185.5 531.2V566.6 M189.5 522.4V535.2 M195.5 523.3V536.5 M199.5 521.2V530.5 M205.5 523.3V535.5 M216.5 517.0V528.7 M219.5 517.0V525.4 M229.5 522.0V529.6 M239.5 463.9V526.7 M242.5 423.8V469.6 M246.5 408.0V449.9 M256.5 387.0V436.0 M273.5 410.0V448.6 M276.5 416.0V445.7 M283.5 405.9V429.8 M286.5 394.0V415.6 M293.5 412.2V420.3 M296.5 415.0V428.9 M300.5 408.0V418.8 M303.5 390.8V421.6 M306.5 395.0V406.8 M320.5 416.0V427.9 M323.5 405.9V426.9 M330.5 395.9V410.9 M337.5 417.8V441.0 M340.5 416.0V428.9 M347.5 394.0V426.0 M350.5 373.9V400.0 M367.5 413.8V423.9 M377.5 416.0V427.9 M394.5 432.0V469.6 M397.5 426.0V441.6 M407.5 429.8V440.7 M411.5 431.0V436.9 M414.5 419.3V435.7 M424.5 405.0V441.7 M428.5 403.0V414.0 M434.5 418.8V424.7 M438.5 407.2V422.6 M445.5 404.0V419.7 M448.5 379.2V409.7 M451.5 348.2V384.2 M455.5 343.1V360.7 M461.5 345.0V357.6 M465.5 336.4V355.5 M468.5 326.9V358.8 M471.5 285.2V332.7 M475.5 270.1V301.5 M478.5 248.2V279.9 M482.5 258.2V272.9 M485.5 226.0V261.7 M488.5 220.0V243.5 M498.5 234.1V272.9 M502.5 236.9V262.6 M505.5 230.1V243.5 M508.5 217.2V238.7 M519.5 224.1V246.7 M532.5 271.4V295.5 M535.5 238.9V275.0 M542.5 244.0V263.9 M546.5 210.0V251.7 M549.5 189.2V216.8 M552.5 151.2V198.7 M562.5 104.2V168.5 M566.5 82.0V114.7 M579.5 113.0V140.6 M589.5 143.2V189.8 M596.5 66.9V169.0 M603.5 57.3V92.7 M610.5 105.2V152.7 M616.5 105.0V134.7 M623.5 137.3V160.7 M626.5 125.1V145.0 M633.5 136.9V160.7 M636.5 126.0V156.7 M643.5 126.0V160.7 M650.5 149.2V159.9 M653.5 142.3V158.0 M657.5 142.3V157.7 M660.5 132.2V156.7 M663.5 128.1V148.5 M667.5 88.3V131.8 M684.5 107.1V137.9 M694.5 123.2V131.6 M714.5 189.5V219.0 M721.5 177.5V203.7 M724.5 164.1V186.6 M731.5 146.0V180.7 M734.5 122.1V149.7 M737.5 111.2V135.9 M744.5 107.0V129.6 M748.5 90.1V126.5 M754.5 116.2V137.5 M768.5 170.3V244.7 M771.5 156.4V192.6 M788.5 210.4V225.9 M791.5 195.1V224.6 M805.5 209.2V229.7 M808.5 195.4V222.0 M812.5 204.2V211.7 M815.5 173.2V210.4 M832.5 213.3V230.0 M835.5 213.3V225.0 M839.5 212.1V222.8 M849.5 277.4V323.5 M855.5 278.3V319.7 M862.5 256.3V294.6 M882.5 314.3V332.8 M892.5 323.5V355.8 M906.5 378.0V392.6 M909.5 370.2V383.6 M913.5 350.1V383.8 M916.5 351.1V369.6 M919.5 342.3V364.6 M926.5 334.1V348.6 M933.5 341.4V351.4 M940.5 343.2V380.9 M943.5 316.4V350.4 M953.5 338.0V346.6 M956.5 326.1V361.4 M960.5 322.3V341.6 M963.5 289.2V332.1 M966.5 282.1V305.6 M977.5 328.2V336.6 M997.5 346.3V376.6 M1004.5 345.9V356.6 M1007.5 337.1V353.1 M1020.5 349.3V364.2 M1024.5 354.1V360.6 M1027.5 354.1V359.7 M1034.5 347.2V361.0 M1041.5 346.5V353.8 M1044.5 326.2V349.1 M1047.5 328.0V336.5 M1051.5 324.2V330.8 M1054.5 308.9V327.8 M1057.5 302.0V320.4 M1074.5 327.1V336.8 M1081.5 293.8V334.9 M1084.5 288.2V306.4 M1094.5 299.1V305.8 M1108.5 338.0V367.7 M1115.5 346.3V364.8 M1125.5 356.4V376.7 M1128.5 343.0V362.6 M1148.5 438.0V473.6 M1162.5 484.1V534.7 M1165.5 479.1V497.7 M1169.5 475.1V487.7 M1172.5 476.1V495.8 M1182.5 497.5V512.8 M1185.5 490.2V508.8" stroke="#26a69a" stroke-width="1" fill="none"/>
<path d="M12 420.0h3v46.0h-3z M19 472.5h3v3.5h-3z M23 462.0h3v10.8h-3z M33 466.8h3v11.0h-3z M43 508.8h3v10.1h-3z M53 511.0h3v7.9h-3z M56 507.0h3v4.6h-3z M63 509.0h3v6.0h-3z M66 508.2h3v1.3h-3z M70 488.9h3v19.8h-3z M80 501.3h3v2.5h-3z M83 497.0h3v5.0h-3z M87 486.0h3v12.0h-3z M110 524.0h3v3.0h-3z M113 512.0h3v12.5h-3z M120 525.2h3v3.8h-3z M140 547.0h3v29.6h-3z M147 562.2h3v7.5h-3z M151 550.9h3v11.7h-3z M157 554.0h3v4.8h-3z M167 559.7h3v1.0h-3z M171 558.8h3v1.0h-3z M174 555.0h3v4.3h-3z M184 534.0h3v26.6h-3z M188 527.7h3v6.3h-3z M194 530.0h3v2.7h-3z M198 524.2h3v6.3h-3z M204 527.0h3v2.6h-3z M215 522.4h3v6.3h-3z M218 520.8h3v1.0h-3z M228 524.0h3v2.2h-3z M238 467.1h3v59.6h-3z M241 446.1h3v21.6h-3z M245 410.9h3v35.8h-3z M255 396.2h3v28.5h-3z M272 423.1h3v4.8h-3z M275 418.8h3v5.1h-3z M282 415.0h3v4.7h-3z M285 398.0h3v17.6h-3z M292 419.0h3v1.0h-3z M295 415.0h3v4.7h-3z M299 414.0h3v1.6h-3z M302 399.0h3v15.7h-3z M305 395.9h3v3.7h-3z M319 416.8h3v2.3h-3z M322 406.8h3v10.4h-3z M329 407.2h3v2.8h-3z M336 427.3h3v9.4h-3z M339 419.0h3v8.9h-3z M346 395.9h3v27.0h-3z M349 375.8h3v20.7h-3z M366 416.0h3v2.8h-3z M376 419.0h3v3.9h-3z M393 436.0h3v28.6h-3z M396 431.4h3v5.3h-3z M406 435.4h3v1.5h-3z M410 433.2h3v2.5h-3z M413 422.9h3v11.3h-3z M423 413.0h3v24.7h-3z M427 408.8h3v5.2h-3z M433 421.0h3v2.5h-3z M437 413.0h3v9.2h-3z M444 405.9h3v12.9h-3z M447 382.9h3v23.6h-3z M450 356.0h3v27.3h-3z M454 355.3h3v1.3h-3z M460 353.2h3v4.4h-3z M464 346.1h3v7.5h-3z M467 327.9h3v18.8h-3z M470 293.4h3v35.1h-3z M474 277.0h3v16.7h-3z M477 267.0h3v10.4h-3z M481 259.8h3v8.1h-3z M484 236.0h3v24.5h-3z M487 235.1h3v1.0h-3z M497 243.2h3v12.5h-3z M501 240.1h3v3.4h-3z M504 238.5h3v1.9h-3z M507 217.8h3v20.7h-3z M518 228.1h3v2.3h-3z M531 274.5h3v16.0h-3z M534 241.0h3v33.5h-3z M541 247.3h3v10.0h-3z M545 213.0h3v34.6h-3z M548 198.3h3v15.1h-3z M551 160.1h3v38.5h-3z M561 111.3h3v55.2h-3z M565 88.3h3v23.2h-3z M578 129.1h3v7.5h-3z M588 149.1h3v39.4h-3z M595 75.1h3v92.4h-3z M602 82.9h3v1.0h-3z M609 110.0h3v34.1h-3z M615 122.8h3v1.2h-3z M622 142.9h3v3.8h-3z M625 141.7h3v2.7h-3z M632 151.1h3v1.6h-3z M635 132.2h3v19.2h-3z M642 153.6h3v1.9h-3z M649 154.2h3v5.3h-3z M652 154.2h3v1.0h-3z M656 153.2h3v1.0h-3z M659 147.3h3v6.3h-3z M662 131.4h3v16.5h-3z M666 93.3h3v38.3h-3z M683 111.3h3v14.3h-3z M693 127.8h3v2.1h-3z M713 195.1h3v23.6h-3z M720 178.2h3v19.2h-3z M723 167.3h3v11.3h-3z M730 146.8h3v32.0h-3z M733 127.1h3v20.7h-3z M736 123.3h3v4.2h-3z M743 123.3h3v4.4h-3z M747 97.3h3v26.4h-3z M753 121.2h3v12.6h-3z M767 177.3h3v60.3h-3z M770 162.9h3v14.7h-3z M787 216.2h3v8.8h-3z M790 202.0h3v14.5h-3z M804 221.5h3v7.5h-3z M807 209.2h3v12.3h-3z M811 206.2h3v3.4h-3z M814 176.2h3v30.2h-3z M831 222.1h3v6.9h-3z M834 218.4h3v3.7h-3z M838 213.3h3v5.1h-3z M848 285.2h3v21.4h-3z M854 283.3h3v18.2h-3z M861 261.1h3v28.5h-3z M881 323.0h3v9.4h-3z M891 330.1h3v14.4h-3z M905 382.8h3v1.0h-3z M908 378.0h3v5.4h-3z M912 355.2h3v23.6h-3z M915 354.5h3v1.3h-3z M918 345.0h3v10.4h-3z M925 344.1h3v2.3h-3z M932 350.1h3v1.0h-3z M939 349.1h3v29.7h-3z M942 320.1h3v29.4h-3z M952 342.6h3v3.0h-3z M955 340.0h3v3.2h-3z M959 330.1h3v10.6h-3z M962 300.9h3v29.5h-3z M965 300.0h3v1.0h-3z M976 330.4h3v6.0h-3z M996 352.3h3v22.2h-3z M1003 348.1h3v4.7h-3z M1006 346.6h3v2.5h-3z M1019 359.4h3v4.5h-3z M1023 356.0h3v3.7h-3z M1026 356.4h3v1.0h-3z M1033 350.3h3v8.6h-3z M1040 347.2h3v6.3h-3z M1043 330.0h3v17.6h-3z M1046 329.6h3v1.0h-3z M1050 327.1h3v3.4h-3z M1053 315.2h3v12.3h-3z M1056 304.1h3v11.3h-3z M1073 330.2h3v6.1h-3z M1080 300.1h3v34.5h-3z M1083 296.3h3v4.4h-3z M1093 302.4h3v2.7h-3z M1107 351.3h3v6.8h-3z M1114 354.7h3v1.3h-3z M1124 359.4h3v17.0h-3z M1127 343.8h3v15.9h-3z M1147 446.3h3v11.2h-3z M1161 488.3h3v35.8h-3z M1164 485.4h3v3.3h-3z M1168 483.6h3v1.0h-3z M1171 482.4h3v2.1h-3z M1181 505.0h3v1.0h-3z M1184 493.3h3v12.6h-3z" fill="#26a69a"/>
<path d="M10.5 456.0V476.0 M17.5 419.5V483.0 M27.5 450.0V471.5 M30.5 459.0V481.8 M37.5 465.9V498.5 M40.5 475.3V525.8 M47.5 504.4V522.9 M50.5 509.0V523.9 M61.5 506.0V517.9 M74.5 487.2V504.8 M77.5 498.2V507.0 M91.5 482.8V491.6 M94.5 485.4V499.8 M98.5 491.6V499.8 M101.5 495.4V518.9 M104.5 510.7V527.7 M108.5 519.0V531.7 M118.5 504.0V530.0 M125.5 522.0V533.7 M128.5 523.0V532.7 M131.5 525.0V566.8 M135.5 551.0V584.8 M138.5 555.0V580.6 M145.5 547.0V576.9 M155.5 550.0V562.8 M162.5 548.0V559.7 M165.5 555.0V566.8 M178.5 554.0V561.9 M182.5 549.3V562.9 M192.5 526.7V538.8 M202.5 519.2V529.6 M209.5 521.2V529.2 M212.5 525.4V537.8 M222.5 520.2V525.2 M226.5 520.0V526.7 M232.5 524.0V534.6 M236.5 520.2V528.3 M249.5 407.2V432.9 M253.5 405.0V436.7 M259.5 389.0V416.0 M263.5 401.3V426.9 M266.5 400.9V418.9 M269.5 416.8V430.6 M279.5 410.0V431.9 M290.5 388.0V422.9 M310.5 379.9V404.7 M313.5 400.9V421.9 M317.5 416.0V426.9 M327.5 400.0V411.8 M333.5 402.0V438.9 M343.5 416.0V423.9 M354.5 367.0V386.7 M357.5 380.8V405.9 M360.5 400.9V431.9 M364.5 410.9V424.7 M370.5 395.9V421.0 M374.5 405.0V429.8 M381.5 416.0V424.7 M384.5 413.0V442.8 M387.5 430.9V464.6 M391.5 451.4V480.9 M401.5 427.9V439.8 M404.5 419.7V438.9 M418.5 419.7V432.7 M421.5 422.9V439.8 M431.5 407.8V426.6 M441.5 410.0V420.4 M458.5 351.9V362.9 M492.5 229.1V256.7 M495.5 234.7V269.9 M512.5 208.0V236.0 M515.5 215.9V241.7 M522.5 217.2V245.7 M525.5 241.0V283.7 M529.5 268.2V293.7 M539.5 241.3V266.1 M556.5 150.2V176.5 M559.5 145.1V173.7 M569.5 82.0V131.6 M572.5 99.2V143.5 M576.5 126.0V143.5 M583.5 127.2V165.5 M586.5 146.2V188.7 M593.5 147.0V168.7 M599.5 74.0V100.8 M606.5 80.1V149.5 M613.5 100.0V127.8 M620.5 122.0V159.9 M630.5 126.0V167.7 M640.5 127.2V159.9 M647.5 150.2V163.6 M670.5 85.2V108.4 M673.5 96.2V112.8 M677.5 99.2V129.7 M680.5 119.1V136.0 M687.5 103.0V116.5 M690.5 107.2V133.5 M697.5 125.1V133.8 M700.5 131.0V187.6 M704.5 165.1V181.5 M707.5 168.2V187.6 M711.5 175.0V226.5 M717.5 194.1V202.7 M727.5 162.9V185.7 M741.5 122.1V133.8 M751.5 86.9V134.6 M758.5 119.9V159.7 M761.5 141.5V283.5 M764.5 217.5V252.6 M775.5 160.4V215.5 M778.5 167.4V209.6 M781.5 186.2V224.6 M785.5 207.4V247.6 M795.5 187.3V212.5 M798.5 183.2V222.8 M801.5 216.2V242.8 M818.5 163.5V184.8 M822.5 173.4V209.6 M825.5 194.5V222.8 M828.5 207.4V246.6 M842.5 212.5V264.7 M845.5 251.2V339.7 M852.5 280.2V311.6 M859.5 276.2V294.6 M865.5 250.1V272.4 M869.5 251.9V287.7 M872.5 261.1V292.5 M876.5 264.1V324.4 M879.5 310.3V337.5 M886.5 311.3V347.2 M889.5 315.4V354.9 M896.5 329.5V366.7 M899.5 338.9V379.6 M902.5 365.2V404.7 M923.5 338.2V350.8 M929.5 341.2V353.6 M936.5 348.6V390.6 M946.5 313.5V338.6 M950.5 320.4V350.4 M970.5 299.5V326.4 M973.5 309.1V341.6 M980.5 329.2V344.7 M983.5 322.3V363.7 M987.5 350.8V366.7 M990.5 344.1V379.6 M993.5 349.1V381.9 M1000.5 349.1V354.1 M1010.5 343.4V362.6 M1014.5 351.8V364.8 M1017.5 349.3V364.8 M1030.5 340.0V361.6 M1037.5 345.1V354.7 M1061.5 303.3V329.6 M1064.5 320.8V339.7 M1068.5 326.2V339.7 M1071.5 333.0V336.8 M1078.5 323.3V338.4 M1088.5 291.1V307.6 M1091.5 300.1V310.8 M1098.5 293.2V306.8 M1101.5 305.5V323.3 M1105.5 319.2V359.7 M1111.5 343.0V362.6 M1118.5 353.5V356.6 M1121.5 354.0V379.5 M1131.5 342.2V351.0 M1135.5 345.9V384.5 M1138.5 374.2V402.6 M1142.5 391.3V459.8 M1145.5 427.1V464.6 M1152.5 444.1V480.8 M1155.5 454.4V485.4 M1158.5 472.3V524.7 M1175.5 479.1V498.7 M1179.5 493.0V511.8" stroke="#ef5350" stroke-width="1" fill="none"/>
<path d="M9 462.0h3v4.0h-3z M16 420.0h3v56.0h-3z M26 462.0h3v5.0h-3z M29 467.0h3v10.8h-3z M36 466.8h3v28.6h-3z M39 495.4h3v23.5h-3z M46 508.8h3v3.2h-3z M49 511.0h3v8.0h-3z M60 507.0h3v7.5h-3z M73 488.9h3v11.6h-3z M76 500.3h3v3.5h-3z M90 486.0h3v3.0h-3z M93 488.5h3v8.2h-3z M97 495.0h3v1.5h-3z M100 496.7h3v17.2h-3z M103 513.2h3v10.7h-3z M107 523.3h3v3.7h-3z M117 512.0h3v17.2h-3z M124 525.6h3v1.0h-3z M127 525.2h3v2.2h-3z M130 527.0h3v34.0h-3z M134 560.3h3v4.4h-3z M137 564.0h3v12.6h-3z M144 547.0h3v22.7h-3z M154 551.0h3v7.8h-3z M161 554.0h3v5.3h-3z M164 558.8h3v3.0h-3z M177 555.0h3v4.7h-3z M181 559.0h3v1.6h-3z M191 527.7h3v5.0h-3z M201 524.2h3v5.0h-3z M208 527.5h3v1.0h-3z M211 527.7h3v1.3h-3z M221 520.8h3v2.5h-3z M225 522.0h3v4.2h-3z M231 524.0h3v1.0h-3z M235 524.6h3v1.0h-3z M248 410.9h3v11.0h-3z M252 421.0h3v3.7h-3z M258 396.2h3v11.6h-3z M262 407.2h3v9.4h-3z M265 416.0h3v2.5h-3z M268 417.8h3v10.1h-3z M278 419.1h3v1.0h-3z M289 398.0h3v21.7h-3z M309 395.9h3v8.1h-3z M312 402.8h3v16.0h-3z M316 417.8h3v1.0h-3z M326 407.2h3v2.5h-3z M332 407.2h3v29.5h-3z M342 419.0h3v4.1h-3z M353 375.8h3v7.9h-3z M356 382.7h3v19.8h-3z M359 401.8h3v10.4h-3z M363 411.3h3v7.5h-3z M369 416.0h3v1.0h-3z M373 416.0h3v6.9h-3z M380 419.0h3v1.0h-3z M383 419.7h3v18.0h-3z M386 437.3h3v17.2h-3z M390 454.1h3v10.5h-3z M400 431.4h3v4.0h-3z M403 434.8h3v2.1h-3z M417 422.9h3v3.1h-3z M420 425.4h3v12.3h-3z M430 408.4h3v14.5h-3z M440 413.0h3v6.0h-3z M457 355.0h3v2.6h-3z M491 235.4h3v1.9h-3z M494 236.9h3v18.8h-3z M511 217.8h3v11.5h-3z M514 228.8h3v1.0h-3z M521 228.1h3v16.7h-3z M524 243.8h3v32.9h-3z M528 276.4h3v14.1h-3z M538 241.3h3v16.0h-3z M555 160.1h3v2.3h-3z M558 162.4h3v4.1h-3z M568 88.3h3v30.5h-3z M571 118.0h3v16.7h-3z M575 134.4h3v2.2h-3z M582 129.1h3v24.5h-3z M585 153.3h3v35.2h-3z M592 149.1h3v18.4h-3z M598 75.1h3v8.5h-3z M605 82.9h3v60.6h-3z M612 110.0h3v14.7h-3z M619 123.0h3v23.7h-3z M629 141.5h3v10.8h-3z M639 132.2h3v23.3h-3z M646 153.6h3v6.3h-3z M669 93.3h3v7.2h-3z M672 100.0h3v9.3h-3z M676 109.0h3v12.8h-3z M679 120.9h3v4.7h-3z M686 111.3h3v1.0h-3z M689 111.5h3v18.4h-3z M696 128.2h3v5.2h-3z M699 132.9h3v37.7h-3z M703 170.2h3v5.1h-3z M706 175.1h3v2.2h-3z M710 177.3h3v41.4h-3z M716 195.1h3v2.3h-3z M726 167.3h3v11.3h-3z M740 123.3h3v4.2h-3z M750 97.3h3v36.5h-3z M757 121.2h3v23.5h-3z M760 144.7h3v80.7h-3z M763 225.3h3v12.3h-3z M774 162.9h3v18.6h-3z M777 181.1h3v20.6h-3z M780 201.4h3v14.1h-3z M784 215.2h3v9.4h-3z M794 202.0h3v1.0h-3z M797 202.0h3v16.7h-3z M800 218.4h3v10.4h-3z M817 176.2h3v5.4h-3z M821 181.4h3v21.0h-3z M824 202.0h3v12.6h-3z M827 214.2h3v14.6h-3z M841 213.3h3v45.1h-3z M844 258.2h3v48.4h-3z M851 285.2h3v16.3h-3z M858 283.3h3v6.3h-3z M864 261.1h3v3.4h-3z M868 264.1h3v22.6h-3z M871 286.2h3v1.0h-3z M875 287.1h3v27.2h-3z M878 314.1h3v18.3h-3z M885 323.0h3v11.3h-3z M888 334.3h3v10.2h-3z M895 330.1h3v15.0h-3z M898 345.1h3v28.6h-3z M901 373.4h3v10.4h-3z M922 345.4h3v1.0h-3z M928 344.2h3v6.2h-3z M935 349.5h3v28.9h-3z M945 320.1h3v9.3h-3z M949 329.1h3v16.2h-3z M969 300.3h3v13.2h-3z M972 313.1h3v23.3h-3z M979 330.4h3v9.1h-3z M982 339.2h3v15.3h-3z M986 354.1h3v1.0h-3z M989 354.5h3v18.8h-3z M992 373.1h3v1.0h-3z M999 352.2h3v1.0h-3z M1009 346.6h3v7.5h-3z M1013 353.8h3v2.8h-3z M1016 356.0h3v7.5h-3z M1029 356.4h3v2.5h-3z M1036 350.3h3v1.9h-3z M1060 304.1h3v19.2h-3z M1063 323.0h3v10.8h-3z M1067 333.0h3v2.5h-3z M1070 335.0h3v1.0h-3z M1077 330.2h3v4.4h-3z M1087 296.3h3v5.1h-3z M1090 300.7h3v3.8h-3z M1097 302.0h3v4.4h-3z M1100 306.1h3v14.7h-3z M1104 320.4h3v38.1h-3z M1110 351.3h3v6.6h-3z M1117 354.9h3v1.0h-3z M1120 354.7h3v21.7h-3z M1130 343.8h3v4.3h-3z M1134 347.2h3v28.2h-3z M1137 375.3h3v17.0h-3z M1141 392.0h3v38.5h-3z M1144 430.3h3v27.3h-3z M1151 446.3h3v17.3h-3z M1154 463.2h3v13.4h-3z M1157 476.1h3v48.0h-3z M1174 482.0h3v12.6h-3z M1178 493.7h3v13.0h-3z" fill="#ef5350"/>
</g>
<g transform="translate(1185.5 607.4)"><circle r="11.7" fill="#fff"/><circle r="9.75" fill="none" stroke="#9420b2" stroke-width="1.5"/><path d="M2.58 -5.24L-4.28 0.27L-0.62 0.54L-3.51 5.44L4.2 -0.12L0.66 -0.42Z" fill="#9420b2"/><circle cx="6.88" cy="-6.9" r="4.3" fill="#fff"/><circle cx="6.88" cy="-6.9" r="2.55" fill="#f23645"/></g>
<text x="1287.1" y="612.9" stroke="#131722" stroke-width="0.18">1,250.00</text>
<text x="1287.1" y="575.9" stroke="#131722" stroke-width="0.18">1,500.00</text>
<text x="1287.1" y="426.9" stroke="#131722" stroke-width="0.18">2,500.00</text>
<text x="1287.1" y="351.9" stroke="#131722" stroke-width="0.18">3,000.00</text>
<text x="1287.1" y="314.9" stroke="#131722" stroke-width="0.18">3,250.00</text>
<text x="1287.1" y="277.9" stroke="#131722" stroke-width="0.18">3,500.00</text>
<text x="1287.1" y="240.9" stroke="#131722" stroke-width="0.18">3,750.00</text>
<text x="1287.1" y="202.9" stroke="#131722" stroke-width="0.18">4,000.00</text>
<text x="1287.1" y="165.9" stroke="#131722" stroke-width="0.18">4,250.00</text>
<text x="1287.1" y="128.9" stroke="#131722" stroke-width="0.18">4,500.00</text>
<text x="1287.1" y="90.9" stroke="#131722" stroke-width="0.18">4,750.00</text>
<text x="1287.1" y="389.9" stroke="#131722" stroke-width="0.18">2,750.00</text>
<text x="1287.1" y="463.9" stroke="#131722" stroke-width="0.18">2,250.00</text>
<text x="1287.1" y="809.9" stroke="#131722" stroke-width="0.18">20.00</text>
<text x="1287.1" y="757.9" stroke="#131722" stroke-width="0.18">40.00</text>
<text x="1287.1" y="706.0" stroke="#131722" stroke-width="0.18">60.00</text>
<text x="1287.1" y="654.1" stroke="#131722" stroke-width="0.18">80.00</text>
<rect x="1281.5" y="30.5" width="58" height="26" rx="4" fill="#fff" stroke="#eceef2"/>
<text x="1291.6" y="48.9" textLength="26.4" lengthAdjust="spacingAndGlyphs" stroke="#131722" stroke-width="0.18">USDT</text>
<path d="M1279 62.0H1337Q1339 62.0 1339 64.0V77.0Q1339 79.0 1337 79.0H1279Z" fill="#0000ff"/>
<text x="1287.1" y="74.0" fill="#fff" stroke="#fff" stroke-width="0.25">4,868.00</text>
<path d="M1279 370.0H1337Q1339 370.0 1339 372.0V385.0Q1339 387.0 1337 387.0H1279Z" fill="#f23645"/>
<text x="1287.1" y="382.0" fill="#fff" stroke="#fff" stroke-width="0.25">2,800.99</text>
<path d="M1230 370.0H1278V387.0H1230Q1228 387.0 1228 385.0V372.0Q1228 370.0 1230 370.0Z" fill="#f23645"/>
<text x="1273.8" y="382.1" fill="#fff" stroke="#fff" stroke-width="0.25" text-anchor="end" textLength="40.6" lengthAdjust="spacingAndGlyphs">SMA:MA</text>
<path d="M1279 445.0H1337Q1339 445.0 1339 447.0V460.0Q1339 462.0 1337 462.0H1279Z" fill="#2962ff"/>
<text x="1287.1" y="457.0" fill="#fff" stroke="#fff" stroke-width="0.25">2,297.65</text>
<path d="M1249 445.0H1278V462.0H1249Q1247 462.0 1247 460.0V447.0Q1247 445.0 1249 445.0Z" fill="#2962ff"/>
<text x="1273.8" y="457.1" fill="#fff" stroke="#fff" stroke-width="0.25" text-anchor="end" textLength="21.8" lengthAdjust="spacingAndGlyphs">EMA</text>
<path d="M1279 468.0H1337Q1339 468.0 1339 470.0V483.0Q1339 485.0 1337 485.0H1279Z" fill="#0000ff"/>
<text x="1287.1" y="480.0" fill="#fff" stroke="#fff" stroke-width="0.25">2,111.00</text>
<path d="M1279 485.2H1337Q1339 485.2 1339 487.2V527.5Q1339 529.5 1337 529.5H1279Z" fill="#26a69a"/>
<text x="1287.1" y="497.2" fill="#fff" stroke="#fff" stroke-width="0.25">2,031.46</text>
<text x="1287.1" y="510.8" fill="#fff" stroke="#fff" stroke-width="0.25" textLength="36" lengthAdjust="spacingAndGlyphs">−9.21%</text>
<text x="1287.1" y="524.4" fill="#fff" fill-opacity="0.7" stroke="#fff" stroke-width="0.18">08:03:10</text>
<path d="M1222 485.0H1278V502.0H1222Q1220 502.0 1220 500.0V487.0Q1220 485.0 1222 485.0Z" fill="#26a69a"/>
<text x="1273.8" y="497.1" fill="#fff" stroke="#fff" stroke-width="0.25" text-anchor="end" textLength="48" lengthAdjust="spacingAndGlyphs">ETHUSDT</text>
<path d="M1279 530.5H1337Q1339 530.5 1339 532.5V545.5Q1339 547.5 1337 547.5H1279Z" fill="#0000ff"/>
<text x="1287.1" y="542.5" fill="#fff" stroke="#fff" stroke-width="0.25">1,750.00</text>
<path d="M1279 763.35H1319.5Q1321.5 763.35 1321.5 765.35V777.85Q1321.5 779.85 1319.5 779.85H1279Z" fill="#7e57c2"/>
<text x="1287.1" y="775.5" fill="#fff" stroke="#fff" stroke-width="0.25">33.53</text>
<path d="M1255.2 763.35H1278V779.85H1255.2Q1253.2 779.85 1253.2 777.85V765.35Q1253.2 763.35 1255.2 763.35Z" fill="#7e57c2"/>
<text x="1273.8" y="775.2" fill="#fff" stroke="#fff" stroke-width="0.25" text-anchor="end" textLength="15.5" lengthAdjust="spacingAndGlyphs">RSI</text>
<path d="M1279 780.65H1319.5Q1321.5 780.65 1321.5 782.65V795.15Q1321.5 797.15 1319.5 797.15H1279Z" fill="#fdd835"/>
<text x="1287.1" y="792.8" fill="#131722" stroke="#131722" stroke-width="0.25">27.92</text>
<path d="M1201 780.65H1278V797.15H1201Q1199 797.15 1199 795.15V782.65Q1199 780.65 1201 780.65Z" fill="#fdd835"/>
<text x="1273.8" y="792.5" fill="#131722" stroke="#131722" stroke-width="0.25" text-anchor="end" textLength="70" lengthAdjust="spacingAndGlyphs">RSI-based MA</text>
<path d="M1278.5 28V847 M11 620.5H1343 M11 820.5H1343" stroke="#e1e3ea" stroke-width="1" fill="none" shape-rendering="crispEdges"/>
<rect x="10.1" y="27.1" width="1334" height="821" fill="none" stroke="#f0f2f5" stroke-width="1.8"/>
<g clip-path="url(#cpTime)">
<text x="9.3" y="838.1" text-anchor="middle" textLength="19.6" lengthAdjust="spacingAndGlyphs" stroke="#131722" stroke-width="0.18">Mar</text>
<text x="114.5" y="838.1" text-anchor="middle" textLength="18.1" lengthAdjust="spacingAndGlyphs" stroke="#131722" stroke-width="0.18">Apr</text>
<text x="215.5" y="838.1" text-anchor="middle" textLength="21.1" lengthAdjust="spacingAndGlyphs" stroke="#131722" stroke-width="0.18">May</text>
<text x="320.2" y="838.1" text-anchor="middle" textLength="18.6" lengthAdjust="spacingAndGlyphs" stroke="#131722" stroke-width="0.18">Jun</text>
<text x="420.9" y="838.1" text-anchor="middle" textLength="15" lengthAdjust="spacingAndGlyphs" stroke="#131722" stroke-width="0.18">Jul</text>
<text x="525.6" y="838.1" text-anchor="middle" textLength="19.6" lengthAdjust="spacingAndGlyphs" stroke="#131722" stroke-width="0.18">Aug</text>
<text x="629.9" y="838.1" text-anchor="middle" textLength="18.3" lengthAdjust="spacingAndGlyphs" stroke="#131722" stroke-width="0.18">Sep</text>
<text x="730.6" y="838.1" text-anchor="middle" textLength="19" lengthAdjust="spacingAndGlyphs" stroke="#131722" stroke-width="0.18">Oct</text>
<text x="835" y="838.1" text-anchor="middle" textLength="20" lengthAdjust="spacingAndGlyphs" stroke="#131722" stroke-width="0.18">Nov</text>
<text x="936.5" y="838.1" text-anchor="middle" textLength="20" lengthAdjust="spacingAndGlyphs" stroke="#131722" stroke-width="0.18">Dec</text>
<text x="1040.7" y="838.1" text-anchor="middle" textLength="27.6" lengthAdjust="spacingAndGlyphs" font-weight="700" stroke="#131722" stroke-width="0.18">2026</text>
<text x="1145" y="838.1" text-anchor="middle" textLength="19" lengthAdjust="spacingAndGlyphs" stroke="#131722" stroke-width="0.18">Feb</text>
<text x="1239.1" y="838.1" text-anchor="middle" textLength="19.6" lengthAdjust="spacingAndGlyphs" stroke="#131722" stroke-width="0.18">Mar</text>
</g>
<path d="M12 870H23.86V884.8H18.1V875.96H12Z M35.47 870H42.03L35.9 884.8H29.18Z" fill="#111"/><circle cx="29.05" cy="873" r="2.95" fill="#111"/>
<text x="48.5" y="884.8" font-size="20.3" font-weight="700" fill="#111" stroke="none" textLength="121.3" lengthAdjust="spacingAndGlyphs">TradingView</text>
</svg>
</body></html>
